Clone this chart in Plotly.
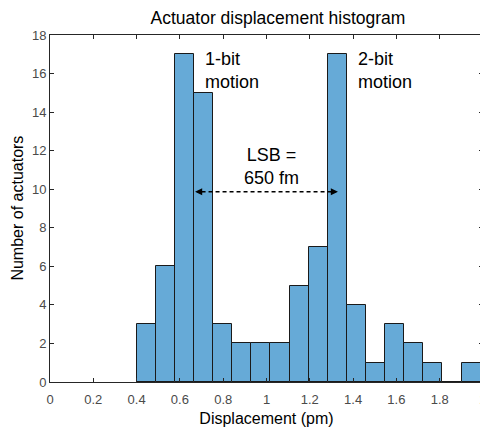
import plotly.graph_objects as go

# Data
bin_start = 0.40
bin_width = 0.0883
counts = [3, 6, 17, 15, 3, 2, 2, 2, 5, 7, 17, 4, 1, 3, 2, 1, 0, 1]
x_ticks = [0, 0.2, 0.4, 0.6, 0.8, 1, 1.2, 1.4, 1.6, 1.8, 2]
x_tick_labels = ["0", "0.2", "0.4", "0.6", "0.8", "1", "1.2", "1.4", "1.6", "1.8", "2"]
y_ticks = [0, 2, 4, 6, 8, 10, 12, 14, 16, 18]
arrow_start, arrow_end, arrow_y = 0.670, 1.330, 9.87

centers = [bin_start + bin_width * (i + 0.5) for i in range(len(counts))]

FONT = "Liberation Sans, Arial, Helvetica, sans-serif"
AX = "#262626"
TICKFONT = dict(size=13, color="#4a4a4a", family=FONT)

fig = go.Figure()
fig.add_trace(go.Bar(
    x=centers, y=counts, width=bin_width,
    marker=dict(color="rgb(102,170,215)", line=dict(color="#1a1a1a", width=1)),
    showlegend=False, hoverinfo="skip",
))

# dashed arrow line
fig.add_shape(type="line", xref="x", yref="y",
              x0=arrow_start + 0.03, x1=arrow_end - 0.03, y0=arrow_y, y1=arrow_y,
              line=dict(color="black", width=1.3, dash="4px,3px"))
for tip, tail in [(arrow_start, arrow_start + 0.04), (arrow_end, arrow_end - 0.04)]:
    fig.add_annotation(x=tip, y=arrow_y, ax=tail, ay=arrow_y, axref="x", ayref="y",
                       xref="x", yref="y", text="", showarrow=True,
                       arrowhead=2, arrowsize=1.1, arrowwidth=1.3, arrowcolor="black")

txt = dict(size=18, color="black", family=FONT)
fig.add_annotation(x=0.705, y=16.15, text="1-bit<br>motion", showarrow=False,
                   xanchor="left", yanchor="middle", align="left", font=txt)
fig.add_annotation(x=1.412, y=16.15, text="2-bit<br>motion", showarrow=False,
                   xanchor="left", yanchor="middle", align="left", font=txt)
fig.add_annotation(x=1.021, y=11.2, text="LSB =<br>650 fm", showarrow=False,
                   xanchor="center", yanchor="middle", align="center", font=txt)

fig.add_annotation(text="Number of actuators", xref="paper", yref="paper",
                   x=-0.076, y=0.5, textangle=-90, showarrow=False,
                   xanchor="center", yanchor="middle", font=dict(size=16, color="black", family=FONT))

# figure sized so that it fits the window together with the page's 8px body margin
fig.update_layout(
    width=480, height=419,
    margin=dict(l=42, r=5, t=27, b=45, autoexpand=False),
    paper_bgcolor="white", plot_bgcolor="white",
    bargap=0,
    font=dict(family=FONT, color=AX),
    title=dict(text="Actuator displacement histogram", x=0.5625, xanchor="center",
               y=0.976, yanchor="middle", font=dict(size=17.5, color="black", family=FONT)),
    xaxis=dict(range=[0, 2], tickvals=x_ticks, ticktext=x_tick_labels, automargin=False,
               ticks="inside", ticklen=4, tickcolor=AX, showline=True, linecolor=AX,
               linewidth=1, mirror="ticks", showgrid=False, zeroline=False,
               ticklabelstandoff=5, ticklabeloverflow="allow",
               tickfont=TICKFONT,
               title=dict(text="Displacement (pm)", font=dict(size=16, color="black"), standoff=7)),
    yaxis=dict(range=[0, 18], tickvals=y_ticks, automargin=False,
               ticks="inside", ticklen=4, tickcolor=AX, showline=True, linecolor=AX,
               linewidth=1, mirror="ticks", showgrid=False, zeroline=False,
               tickfont=TICKFONT),
)

fig.write_html("out.html")
